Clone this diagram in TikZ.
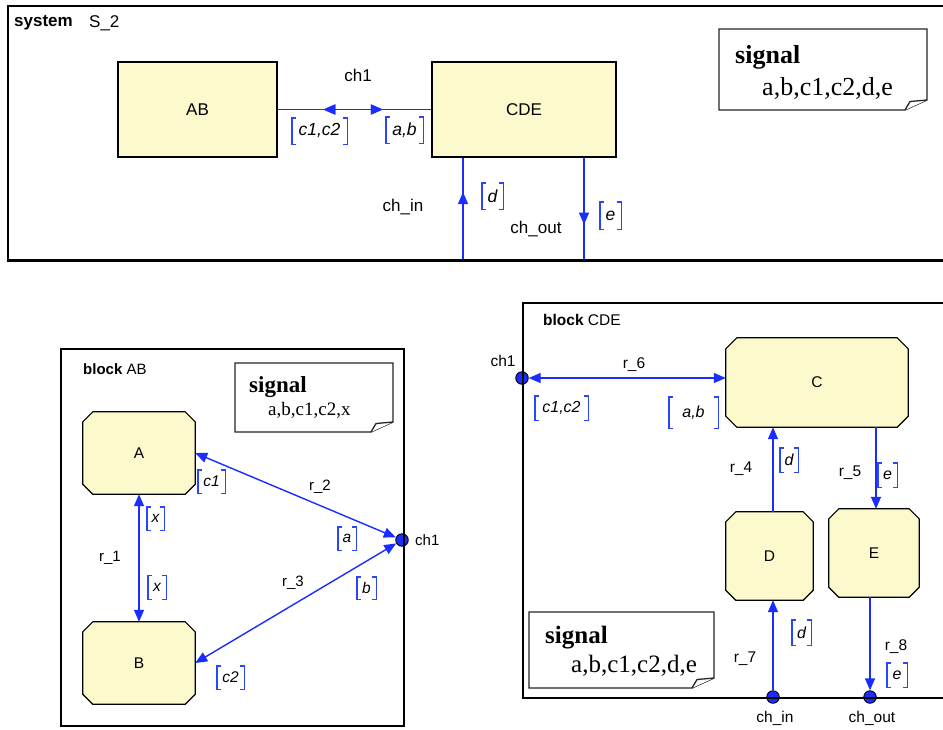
\documentclass[tikz,border=0pt]{standalone}
\usepackage{fontspec}
\setsansfont{Liberation Sans}
\newfontfamily\notefont{Liberation Serif}
\usetikzlibrary{arrows.meta,decorations.markings,backgrounds}

\definecolor{boxfill}{RGB}{252,250,204}
\definecolor{linkblue}{RGB}{25,45,255}
\definecolor{brkblue}{RGB}{40,70,255}

% bracketed signal list next to a route
\newcommand\siglabel[6][sigtop]{%
  \node[#1, minimum width=#4, minimum height=#5] (#2) at (#3) {#6};
  \draw[brk] ([xshift=4pt]#2.north west) -- (#2.north west) -- (#2.south west) -- ([xshift=4pt]#2.south west);
  \draw[brk] ([xshift=-4pt]#2.north east) -- (#2.north east) -- (#2.south east) -- ([xshift=-4pt]#2.south east);
}
% note sheet with a folded bottom-right corner
\newcommand\signote[4]{%
  \draw[noteline] (#1,#2) -- (#3,#2) -- (#3,{#4-10}) -- ({#3-22},#4) -- (#1,#4) -- cycle;
  \draw[noteline] ({#3-22},#4) -- ({#3-17},{#4-8.5}) -- (#3,{#4-10});
}
% octagonal process outline behind a named node
\newcommand\octagon[2]{%
  \begin{pgfonlayer}{background}
  \draw[octline] ([xshift=#2]#1.north west) -- ([xshift=-#2]#1.north east) -- ([yshift=-#2]#1.north east)
    -- ([yshift=#2]#1.south east) -- ([xshift=-#2]#1.south east) -- ([xshift=#2]#1.south west)
    -- ([yshift=#2]#1.south west) -- ([yshift=-#2]#1.north west) -- cycle;
  \end{pgfonlayer}
}

\tikzset{
  >={Triangle[length=12pt,width=10pt]},
  lbl/.style={font=\sffamily\fontsize{17}{20}\selectfont, inner sep=0pt},
  lbls/.style={font=\sffamily\fontsize{15}{18}\selectfont, inner sep=0pt},
  lblm/.style={font=\sffamily\fontsize{15.5}{18}\selectfont, inner sep=0pt},
  sigtop/.style={font=\sffamily\itshape\fontsize{17.5}{20}\selectfont, inner sep=0pt},
  sigab/.style={font=\sffamily\itshape\fontsize{15.5}{18}\selectfont, inner sep=0pt},
  sigcde/.style={font=\sffamily\itshape\fontsize{16}{19}\selectfont, inner sep=0pt},
  brk/.style={brkblue, line width=1.4pt},
  link/.style={linkblue, line width=1.4pt},
  arrow at/.style={postaction=decorate, decoration={markings, mark=at position #1 with {\arrow{>}}}},
  rarrow at/.style={postaction=decorate, decoration={markings, mark=at position #1 with {\arrowreversed{>}}}},
  topbox/.style={rectangle, draw=black, line width=1.3pt, fill=boxfill, inner sep=0pt,
    font=\sffamily\fontsize{17}{20}\selectfont},
  octnode/.style={rectangle, draw=none, inner sep=0pt, font=\sffamily\fontsize{15.5}{18}\selectfont},
  octline/.style={draw=black, line width=1.2pt, fill=boxfill},
  noteline/.style={draw=black!85, line width=1.3pt, fill=white},
  frame/.style={draw=black, line width=1.3pt},
  port/.style={circle, fill=linkblue, draw=black, line width=0.9pt, minimum size=12.5pt, inner sep=0pt},
}

\begin{document}
\begin{tikzpicture}[x=1pt, y=-1pt]
\begin{pgfonlayer}{background}
\fill[white] (0,0) rectangle (943,729);
\end{pgfonlayer}
\useasboundingbox (0,0) rectangle (943,729);

% ================= system S_2 =================
\draw[line width=1.5pt] (960,6) -- (8,6) -- (8,260.5);
\draw[line width=3pt] (6.5,260.5) -- (960,260.5);
\node[lbl, anchor=west] (sysword) at (14,23) {\bfseries system};
\node[lbl, anchor=west] (sysname) at (89,23) {S\_2};

\node[topbox, minimum width=159pt, minimum height=95pt] (AB) at (197.5,109.5) {AB};
\node[topbox, minimum width=184pt, minimum height=95pt] (CDE) at (524,109.5) {CDE};

\draw[link, rarrow at=0.297, arrow at=0.684] (AB.east) -- (CDE.west);
\node[lbl] (ch1top) at (358,75) {ch1};
\siglabel{topcc}{319.5,131}{55pt}{26pt}{c1,c2}
\siglabel{topab}{404.5,130}{37pt}{26pt}{a,b}

\coordinate (chin) at (463,259);
\coordinate (chout) at (584,259);
\draw[link, arrow at=0.66] (chin) -- (chin |- CDE.south);
\draw[link, arrow at=0.66] (chout |- CDE.south) -- (chout);
\node[lbl] (chinlbl) at (403,207) {ch\_in};
\node[lbl] (choutlbl) at (536,229) {ch\_out};
\siglabel{topd}{492.5,196}{21pt}{26pt}{d}
\siglabel{tope}{610.5,215.5}{21pt}{27pt}{e}

\signote{719}{29}{927}{110}
\node[anchor=base west, inner sep=0pt, font=\notefont\bfseries\fontsize{26}{30}\selectfont] (topsig) at (735,63) {signal};
\node[anchor=base west, inner sep=0pt, font=\notefont\fontsize{26}{30}\selectfont] (toplist) at (762,95) {a,b,c1,c2,d,e};

% ================= block AB =================
\node[lbls, anchor=west] (abtitle) at (83,369) {\bfseries block\ \mdseries AB};

\signote{235}{363}{393}{432}
\node[anchor=base west, inner sep=0pt, font=\notefont\bfseries\fontsize{23}{27}\selectfont] (absig) at (249,392) {signal};
\node[anchor=base west, inner sep=0pt, font=\notefont\fontsize{19}{23}\selectfont] (ablist) at (268,415) {a,b,c1,c2,x};

\node[octnode, minimum width=112pt, minimum height=82pt] (A) at (139,453) {A};
\octagon{A}{10pt}
\node[octnode, minimum width=112pt, minimum height=82pt] (B) at (139,663) {B};
\octagon{B}{10pt}

\node[port] (abch1) at (402,540) {};
\node[lbls, anchor=west] (abch1lbl) at (415,540) {ch1};

\draw[link, <->] (A.south) -- (B.north);
\draw[link, <->] (A.east) -- (abch1);
\draw[link, <->] (abch1) -- (B.east);

\node[lbls] (r1) at (110,558) {r\_1};
\node[lbls] (r2) at (320,487) {r\_2};
\node[lbls] (r3) at (293,583) {r\_3};
\siglabel[sigab]{abc1}{211.5,481.5}{27pt}{23pt}{c1}
\siglabel[sigab]{abx1}{155.5,518.5}{17pt}{23pt}{x}
\siglabel[sigab]{abx2}{157,587.5}{18pt}{24pt}{x}
\siglabel[sigab]{aba}{347,538.5}{18pt}{23pt}{a}
\siglabel[sigab]{abb}{366.5,588}{19pt}{22pt}{b}
\siglabel[sigab]{abc2}{230.5,677.5}{27pt}{23pt}{c2}

\draw[frame] (61,349) rectangle (404,726);

% ================= block CDE =================
\node[lblm, anchor=west] (cdetitle) at (543,320) {\bfseries block\ \mdseries CDE};

\signote{529}{612}{714}{688}
\node[anchor=base west, inner sep=0pt, font=\notefont\bfseries\fontsize{25}{29}\selectfont] (cdesig) at (545,643) {signal};
\node[anchor=base west, inner sep=0pt, font=\notefont\fontsize{25}{29}\selectfont] (cdelist) at (571,672) {a,b,c1,c2,d,e};

\node[octnode, minimum width=182pt, minimum height=89pt] (C) at (817,382.5) {C};
\octagon{C}{11pt}
\node[octnode, minimum width=87pt, minimum height=88pt] (D) at (769.5,556) {D};
\octagon{D}{10pt}
\node[octnode, minimum width=90pt, minimum height=88pt] (E) at (874,553) {E};
\octagon{E}{10pt}

\node[port] (cdech1) at (522,378) {};
\node[port] (pin) at (773,697) {};
\node[port] (pout) at (870,697) {};
\node[lblm] (cdech1lbl) at (503,361) {ch1};
\node[lblm] (pinlbl) at (775,718) {ch\_in};
\node[lblm] (poutlbl) at (872,718) {ch\_out};

\draw[link, <->] (cdech1) -- (cdech1 -| C.west);
\draw[link, ->] ([xshift=3.5pt]D.north) -- ([xshift=3.5pt]D.north |- C.south);
\draw[link, ->] ([xshift=2pt]E.north |- C.south) -- ([xshift=2pt]E.north);
\draw[link, ->] (pin) -- (pin |- D.south);
\draw[link, ->] (pout |- E.south) -- (pout);

\node[lblm] (r6) at (634,365) {r\_6};
\node[lblm] (r4) at (741,469) {r\_4};
\node[lblm] (r5) at (850,473) {r\_5};
\node[lblm] (r7) at (745,659) {r\_7};
\node[lblm] (r8) at (896,647) {r\_8};
\siglabel[sigcde]{cdecc}{561.5,408}{53pt}{24pt}{c1,c2}
\siglabel[sigcde]{cdeab}{693.5,412.5}{49pt}{31pt}{a,b}
\siglabel[sigcde]{cded1}{789,460}{18pt}{24pt}{d}
\siglabel[sigcde]{cdee1}{887.5,475}{19pt}{24pt}{e}
\siglabel[sigcde]{cded2}{801.5,632.5}{19pt}{25pt}{d}
\siglabel[sigcde]{cdee2}{897,675}{20pt}{24pt}{e}

\draw[frame] (960,303) -- (523,303) -- (523,698) -- (960,698);
\end{tikzpicture}
\end{document}
